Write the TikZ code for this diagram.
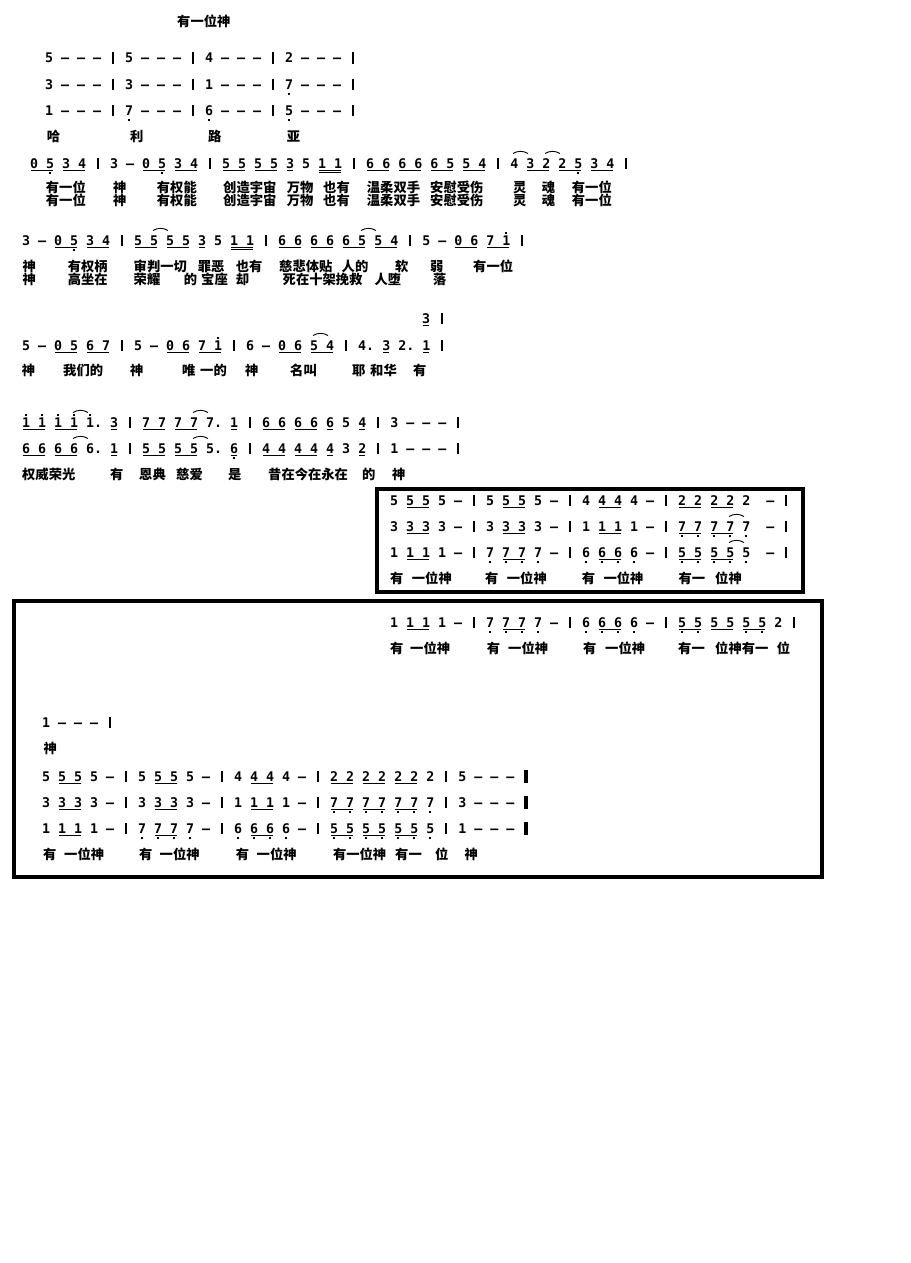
\documentclass[tikz,border=0pt]{standalone}
\usepackage{fontspec}
\usepackage{tikz}
\usetikzlibrary{calc}
\newfontfamily\notefont{DejaVu Sans Mono}
\newfontfamily\cjk{Noto Sans CJK SC}
\newlength\cw \setlength\cw{8pt}
\newsavebox\ulbox
% underline, double underline, low and high dots, bar lines
\newcommand\ul[1]{\sbox\ulbox{#1}\rlap{\hspace{1pt}\rule[-2.6pt]{\dimexpr\wd\ulbox-2pt\relax}{1pt}}\usebox\ulbox}
\newcommand\uul[1]{\sbox\ulbox{#1}\rlap{\hspace{1pt}\rule[-2.6pt]{\dimexpr\wd\ulbox-2pt\relax}{1pt}}\rlap{\hspace{1pt}\rule[-4.8pt]{\dimexpr\wd\ulbox-2pt\relax}{1pt}}\usebox\ulbox}
\newcommand\lo[1]{\rlap{\makebox[\cw]{\smash{\raisebox{-6pt}{\rule{1.8pt}{1.8pt}}}}}#1}
\newcommand\hi[1]{\rlap{\makebox[\cw]{\smash{\raisebox{11.2pt}{\rule{1.8pt}{1.8pt}}}}}#1}
\newcommand\bl{\makebox[\cw]{\rule[-1pt]{2.2pt}{11.5pt}}}
\newcommand\fb{\makebox[\cw]{\rule[-1.5pt]{4pt}{13pt}}}

\begin{document}
\begin{tikzpicture}[
    x=1pt, y=-1pt,
    notes/.style={anchor=base west, inner sep=0pt, font=\notefont\bfseries\fontsize{13.29pt}{15pt}\selectfont\frenchspacing},
    lyric/.style={anchor=base west, inner sep=0pt, font=\cjk\bfseries\fontsize{13.3pt}{15pt}\selectfont},
    slur/.style={line width=0.9pt},
    frame/.style={line width=3.6pt}
]
\useasboundingbox (0,0) rectangle (910,1263);

% Title
\node[lyric] (title) at (177,26.5) {有一位神};

% Hallelujah chords
\node[notes] (h1) at (45,63) {5 – – – \bl{} 5 – – – \bl{} 4 – – – \bl{} 2 – – – \bl};
\node[notes] (h2) at (45,89) {3 – – – \bl{} 3 – – – \bl{} 1 – – – \bl{} \lo7 – – – \bl};
\node[notes] (h3) at (45,115) {1 – – – \bl{} \lo7 – – – \bl{} \lo6 – – – \bl{} \lo5 – – – \bl};
\foreach \x/\w [count=\k] in {46.7/哈,130/利,208/路,286.7/亚}
    \node[lyric] (ly1-\k) at (\x,141.5) {\w};

% Verse
\node[notes] (l2) at (30,168) {\ul{0 \lo5} \ul{3 4} \bl{} 3 – \ul{0 \lo5} \ul{3 4} \bl{} \ul{5 5} \ul{5 5} \ul3 5 \uul{1 1} \bl{} \ul{6 6} \ul{6 6} \ul{6 5} \ul{5 4} \bl{} 4 \ul{3 2} \ul{2 \lo5} \ul{3 4} \bl};
\foreach \x/\w [count=\k] in {45.7/有一位,113/神,156.7/有权能,223/创造宇宙,286.7/万物,323/也有,366.7/温柔双手,430/安慰受伤,513/灵,541.7/魂,571.7/有一位}
{
    \node[lyric] (ly2a-\k) at (\x,192.5) {\w};
    \node[lyric] (ly2b-\k) at (\x,205.5) {\w};
}

\node[notes] (l3) at (22,245) {3 – \ul{0 \lo5} \ul{3 4} \bl{} \ul{5 5} \ul{5 5} \ul3 5 \uul{1 1} \bl{} \ul{6 6} \ul{6 6} \ul{6 5} \ul{5 4} \bl{} 5 – \ul{0 6} \ul{7 \hi1} \bl};
\foreach \x/\w [count=\k] in {22.5/神,67.6/有权柄,133.5/审判一切,197.6/罪恶,235.7/也有,279/慈悲体贴,341.5/人的,395/软,430/弱,473/有一位}
    \node[lyric] (ly3a-\k) at (\x,271.5) {\w};
\foreach \x/\w [count=\k] in {22.5/神,67.6/高坐在,133.5/荣耀,183.7/的,201/宝座,235.7/却,282.5/死在十架挽救,374.4/人堕,433/落}
    \node[lyric] (ly3b-\k) at (\x,284.5) {\w};

% Chorus
\node[notes] (l4top) at (422,323) {\ul3 \bl};
\node[notes] (l4) at (22,350) {5 – \ul{0 5} \ul{6 7} \bl{} 5 – \ul{0 6} \ul{7 \hi1} \bl{} 6 – \ul{0 6} \ul{5 4} \bl{} 4. \ul3 2. \ul1 \bl};
\foreach \x/\w [count=\k] in {21.7/神,63/我们的,130/神,182/唯,200/一的,245/神,290/名叫,352/耶,370/和华,413/有}
    \node[lyric] (ly4-\k) at (\x,375.5) {\w};

\node[notes] (l5) at (22,427) {\ul{\hi1 \hi1} \ul{\hi1 \hi1} \hi1. \ul3 \bl{} \ul{7 7} \ul{7 7} 7. \ul1 \bl{} \ul{6 6} \ul{6 6} \ul6 5 \ul4 \bl{} 3 – – – \bl};
\node[notes] (l6) at (22,453) {\ul{6 6} \ul{6 6} 6. \ul1 \bl{} \ul{5 5} \ul{5 5} 5. \ul{\lo6} \bl{} \ul{4 4} \ul{4 4} \ul4 3 \ul2 \bl{} 1 – – – \bl};
\foreach \x/\w [count=\k] in {22/权威荣光,110/有,139/恩典,176/慈爱,228/是,268/昔在今在永在,362/的,392/神}
    \node[lyric] (ly5-\k) at (\x,479.5) {\w};

% Ending, first box
\node[notes] (b1) at (390,505) {5 \ul{5 5} 5 – \bl{} 5 \ul{5 5} 5 – \bl{} 4 \ul{4 4} 4 – \bl{} \ul{2 2} \ul{2 2} 2 \ – \bl};
\node[notes] (b2) at (390,531) {3 \ul{3 3} 3 – \bl{} 3 \ul{3 3} 3 – \bl{} 1 \ul{1 1} 1 – \bl{} \ul{\lo7 \lo7} \ul{\lo7 \lo7} \lo7 \ – \bl};
\node[notes] (b3) at (390,557) {1 \ul{1 1} 1 – \bl{} \lo7 \ul{\lo7 \lo7} \lo7 – \bl{} \lo6 \ul{\lo6 \lo6} \lo6 – \bl{} \ul{\lo5 \lo5} \ul{\lo5 \lo5} \lo5 \ – \bl};
\foreach \x/\w [count=\k] in {390/有,411.7/一位神,485/有,506.7/一位神,581.7/有,603.3/一位神,678.3/有一,715/位神}
    \node[lyric] (lb-\k) at (\x,583.5) {\w};
\draw[frame] (377,489) rectangle (803,592);

% Ending, second box
\node[notes] (c1) at (390,627) {1 \ul{1 1} 1 – \bl{} \lo7 \ul{\lo7 \lo7} \lo7 – \bl{} \lo6 \ul{\lo6 \lo6} \lo6 – \bl{} \ul{\lo5 \lo5} \ul{5 5} \ul{\lo5 \lo5} 2 \bl};
\foreach \x/\w [count=\k] in {390/有,410/一位神,486.7/有,508/一位神,583/有,605/一位神,678/有一,715/位神有一,776.7/位}
    \node[lyric] (lc1-\k) at (\x,653.5) {\w};
\node[notes] (c2) at (42,727) {1 – – – \bl};
\node[lyric] (lc2) at (43.3,753.5) {神};
\node[notes] (c3) at (42,781) {5 \ul{5 5} 5 – \bl{} 5 \ul{5 5} 5 – \bl{} 4 \ul{4 4} 4 – \bl{} \ul{2 2} \ul{2 2} \ul{2 2} 2 \bl{} 5 – – – \fb};
\node[notes] (c4) at (42,807) {3 \ul{3 3} 3 – \bl{} 3 \ul{3 3} 3 – \bl{} 1 \ul{1 1} 1 – \bl{} \ul{\lo7 \lo7} \ul{\lo7 \lo7} \ul{\lo7 \lo7} \lo7 \bl{} 3 – – – \fb};
\node[notes] (c5) at (42,833) {1 \ul{1 1} 1 – \bl{} \lo7 \ul{\lo7 \lo7} \lo7 – \bl{} \lo6 \ul{\lo6 \lo6} \lo6 – \bl{} \ul{\lo5 \lo5} \ul{\lo5 \lo5} \ul{\lo5 \lo5} \lo5 \bl{} 1 – – – \fb};
\foreach \x/\w [count=\k] in {43/有,64/一位神,139/有,159.5/一位神,235.7/有,256.5/一位神,332.8/有一位神,395/有一,435/位,464.5/神}
    \node[lyric] (lc5-\k) at (\x,859.5) {\w};
\draw[frame] (14,601) rectangle (822,877);

% Ties
\foreach \n/\i in {l2/60,l2/64,l3/16,l3/42,l4/36,l5/6,l5/21,l6/6,l6/21,b2/42,b3/42}
    \draw[slur] ($(\n.base west)+(\i*8+3,-14.5)$) to[bend left=30] ++(15,0);

\end{tikzpicture}
\end{document}
